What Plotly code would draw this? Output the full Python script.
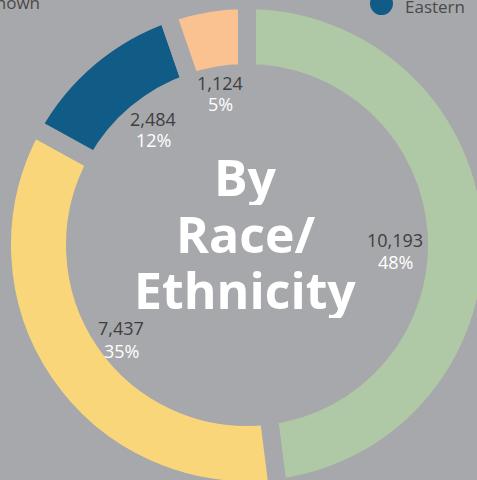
import plotly.graph_objects as go

labels = ["White", "Hispanic/Latino", "Middle Eastern", "Other/Unknown"]
values = [10193, 7437, 2484, 1124]
percents = ["48%", "35%", "12%", "5%"]
colors = ["#afc8a5", "#fad67b", "#115b87", "#f9c290"]
title_lines = ["By", "Race/", "Ethnicity"]

BG = "#a7a8ab"
W, H = 494, 490

def px(x):
    return x / W

def py(y):
    return 1 - y / H

fig = go.Figure(go.Pie(
    labels=labels, values=values, sort=False, direction="clockwise", rotation=0,
    hole=0.702, textinfo="none", hoverinfo="label+value+percent",
    marker=dict(colors=colors, line=dict(color=BG, width=18)),
    domain=dict(x=[0, 1], y=[0, 1]), showlegend=False,
))

# value / percent labels positioned inside the hole
label_pos = [(395, 240, 262), (121, 328, 351), (153, 119, 140), (220, 83, 104)]
ann = []
for (x, y1, y2), v, p in zip(label_pos, values, percents):
    ann.append(dict(x=px(x), y=py(y1), text=f"{v:,}", showarrow=False,
                    xanchor="center", yanchor="middle", height=20, borderpad=0,
                    font=dict(family="Open Sans", size=18, color="#3f3f3f")))
    ann.append(dict(x=px(x), y=py(y2), text=p, showarrow=False,
                    xanchor="center", yanchor="middle", height=20, borderpad=0,
                    font=dict(family="Open Sans", size=18, color="#ffffff")))

for t, y in zip(title_lines, [177, 234, 290]):
    ann.append(dict(x=px(245), y=py(y), text=f"<b>{t}</b>", showarrow=False,
                    xanchor="center", yanchor="middle", height=56, borderpad=0,
                    font=dict(family="Open Sans", size=50, color="#ffffff")))

# legend fragments (cropped by the frame, as in the reference)
ann.append(dict(x=px(42), y=py(3), text="Unknown", showarrow=False, xanchor="right",
                yanchor="middle", font=dict(family="Open Sans", size=17, color="#4a4a4a")))
ann.append(dict(x=px(403), y=py(6), text="Eastern", showarrow=False, xanchor="left",
                yanchor="middle", font=dict(family="Open Sans", size=17, color="#4a4a4a")))

fig.update_layout(
    width=W, height=H, margin=dict(l=0, r=0, t=0, b=0),
    paper_bgcolor=BG, plot_bgcolor=BG, annotations=ann,
    shapes=[dict(type="circle", xref="paper", yref="paper",
                 x0=px(370), x1=px(393), y0=py(-8), y1=py(15),
                 fillcolor="#115b87", line=dict(width=0))],
)

fig.write_html("out.html", config={"displayModeBar": False}, post_script=(
    "document.body.style.margin='0';document.body.style.overflow='hidden';"
    "document.body.style.background='" + BG + "';"
))
